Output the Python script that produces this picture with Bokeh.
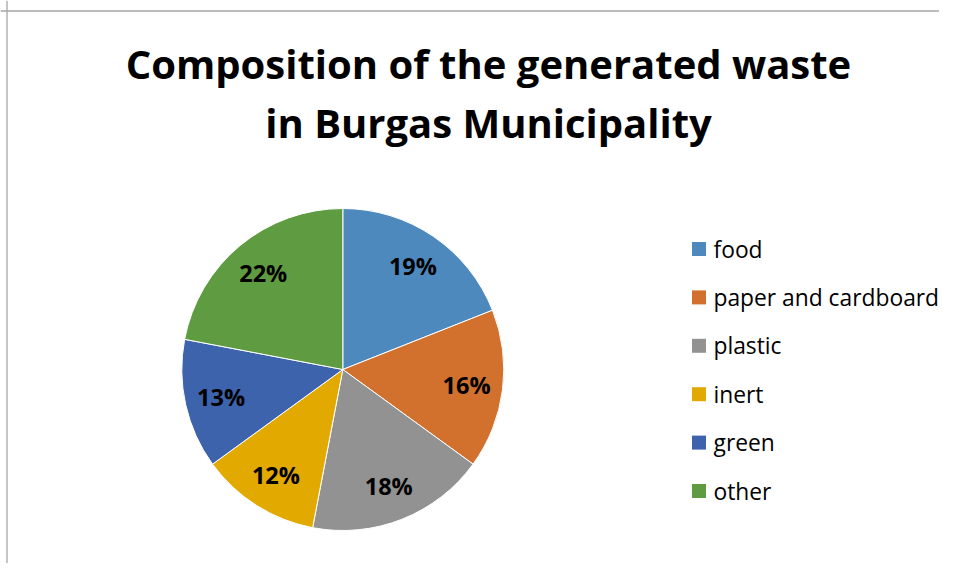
import math
from bokeh.plotting import figure
from bokeh.models import Range1d, Span
from bokeh.core.properties import value
from bokeh.embed import file_html
from bokeh.resources import INLINE

# ---- data ----
categories = ["food", "paper and cardboard", "plastic", "inert", "green", "other"]
shares = [19, 16, 18, 12, 13, 22]
colors = ["#4E89BE", "#D2702D", "#929292", "#E2A900", "#3C63AC", "#5F9B40"]
title_lines = ["Composition of the generated waste", "in Burgas Municipality"]

# ---- layout (pixels) ----
W, H = 939, 563
FONT = "Open Sans"

def px(x):
    return x

def py(y):
    return H - y

p = figure(width=W, height=H, x_range=Range1d(0, W), y_range=Range1d(0, H),
           output_backend="svg", toolbar_location=None, min_border=0,
           x_axis_location=None, y_axis_location=None)
p.grid.visible = False
p.outline_line_color = None
p.background_fill_color = "white"
p.border_fill_color = "white"

# border (left and top only, as in the reference)
p.add_layout(Span(location=px(6.5), dimension="height", line_color="#A6A6A6", line_width=1.3))
p.add_layout(Span(location=py(10.5), dimension="width", line_color="#A6A6A6", line_width=1.3))

# title
p.text(x=[px(488)] * 2, y=[py(62.5), py(121.5)], text=title_lines,
       text_font=value(FONT), text_font_style="bold", text_font_size="40px",
       text_align="center", text_baseline="middle", text_color="black")

# pie
cx, cy, r = px(342.3), py(369), 161
total = float(sum(shares))
starts, ends, lx, ly, labels = [], [], [], [], []
cum = 0.0
for s in shares:
    a0 = math.pi / 2 - 2 * math.pi * cum / total
    a1 = math.pi / 2 - 2 * math.pi * (cum + s) / total
    starts.append(a1)
    ends.append(a0)
    mid = math.pi / 2 - 2 * math.pi * (cum + s / 2) / total
    lx.append(cx + 0.775 * r * math.cos(mid))
    ly.append(cy + 0.775 * r * math.sin(mid))
    labels.append(f"{s}%")
    cum += s

p.wedge(x=cx, y=cy, radius=r, start_angle=starts, end_angle=ends,
        fill_color=colors, line_color="white", line_width=1)

p.text(x=lx, y=ly, text=labels, text_font=value(FONT), text_font_style="bold",
       text_font_size="23.5px", text_align="center", text_baseline="middle",
       text_color="black")

# legend
row0, step = 248.5, 48.4
ys = [py(row0 + i * step) for i in range(len(categories))]
p.rect(x=[px(698.5)] * len(categories), y=ys, width=14, height=14,
       fill_color=colors, line_color=None)
p.text(x=[px(713)] * len(categories), y=ys, text=categories,
       text_font=value(FONT), text_font_size="22.8px", text_align="left",
       text_baseline="middle", text_color="black")

open("out.html", "w").write(file_html(p, INLINE))
